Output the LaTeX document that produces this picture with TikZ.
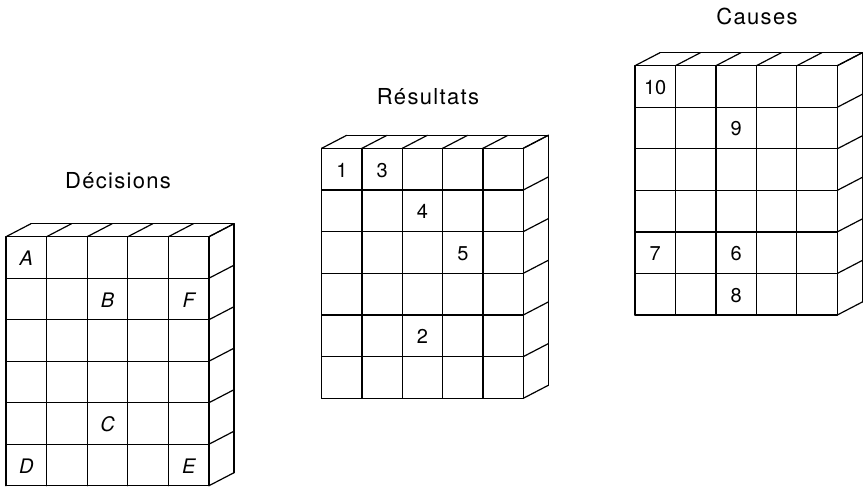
\documentclass[tikz,border=0pt]{standalone}
\usepackage{fontspec}
\setmainfont{TeX Gyre Heros}
\newfontfamily\titlefont[LetterSpace=6]{TeX Gyre Heros}
\tikzset{
  gl/.style={line width=1.2pt, line cap=round, line join=round},
  lab/.style={font=\fontsize{20}{24}\selectfont, inner sep=0pt},
  ttl/.style={font=\titlefont\fontsize{22}{26}\selectfont, inner sep=0pt, anchor=base}
}
% #1 left, #2 top, #3 width, #4 height (image coordinates, y down)
\newcommand\gridbox[4]{%
  \pgfmathsetmacro\gx{#1}%
  \pgfmathsetmacro\gy{#2}%
  \pgfmathsetmacro\cw{#3/5}%
  \pgfmathsetmacro\rh{#4/6}%
  \foreach \i in {0,...,5} \draw[gl] ({#1+\i*\cw},#2) -- ({#1+\i*\cw},{#2+#4});
  \foreach \j in {0,...,6} \draw[gl] (#1,{#2+\j*\rh}) -- ({#1+#3},{#2+\j*\rh});
  \foreach \i in {0,...,5} \draw[gl] ({#1+\i*\cw},#2) -- ++(25,-13);
  \draw[gl] ({#1+25},{#2-13}) -- ++(#3,0);
  \foreach \j in {0,...,6} \draw[gl] ({#1+#3},{#2+\j*\rh}) -- ++(25,-13);
  \draw[gl] ({#1+#3+25},{#2-13}) -- ++(0,#4);
}
\newcommand\celltext[4]{\node[lab] (#1) at ({\gx+(#2+0.5)*\cw},{\gy+(#3+0.5)*\rh+1}) {#4};}
\begin{document}
\begin{tikzpicture}[x=1pt,y=-1pt]
\useasboundingbox (0,0) rectangle (868,487);
% Décisions
\gridbox{6}{236.7}{203}{249}
\celltext{dA}{0}{0}{\itshape A}
\celltext{dB}{2}{1}{\itshape B}
\celltext{dF}{4}{1}{\itshape F}
\celltext{dC}{2}{4}{\itshape C}
\celltext{dD}{0}{5}{\itshape D}
\celltext{dE}{4}{5}{\itshape E}
\node[ttl] (t1) at (118,188.3) {Décisions};
% Résultats
\gridbox{321.7}{148.3}{201.6}{250}
\celltext{r1}{0}{0}{1}
\celltext{r3}{1}{0}{3}
\celltext{r4}{2}{1}{4}
\celltext{r5}{3}{2}{5}
\celltext{r2}{2}{4}{2}
\node[ttl] (t2) at (428,104.7) {Résultats};
% Causes
\gridbox{635}{65.7}{202.3}{249.3}
\celltext{c10}{0}{0}{10}
\celltext{c9}{2}{1}{9}
\celltext{c7}{0}{4}{7}
\celltext{c6}{2}{4}{6}
\celltext{c8}{2}{5}{8}
\node[ttl] (t3) at (757,24.5) {Causes};
\end{tikzpicture}
\end{document}
